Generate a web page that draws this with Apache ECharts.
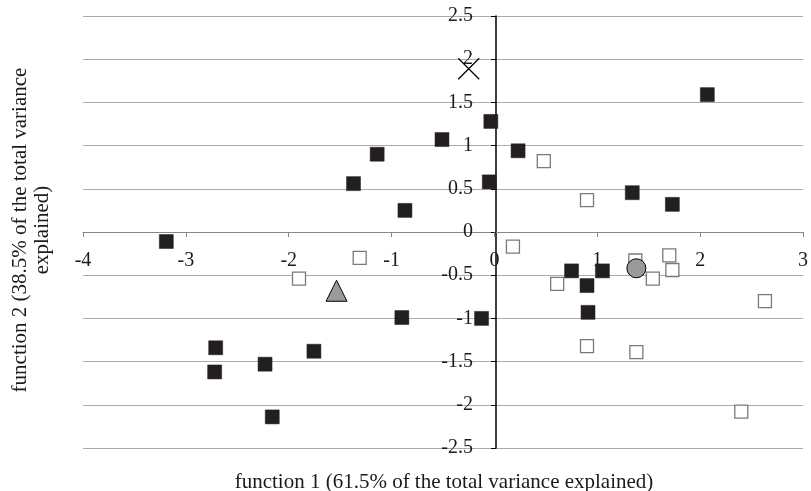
<!DOCTYPE html>
<html>
<head>
<meta charset="utf-8">
<script src="https://cdn.jsdelivr.net/npm/echarts@6/dist/echarts.min.js"></script>
<style>
html,body{margin:0;padding:0;background:#fff;}
#chart{width:811px;height:491px;}
</style>
</head>
<body>
<div id="chart"></div>
<script>
// Group A (filled black squares)
const blackX = [-0.51, -1.14, -1.37, -0.87, -3.19, -0.035, 0.23, -0.05, 1.34, 1.73, 2.07,
                -0.90, -2.71, -1.755, -2.72, -2.23, -2.16, -0.125, 0.75, 0.90, 1.05, 0.91];
const blackY = [1.07, 0.90, 0.56, 0.25, -0.11, 1.28, 0.94, 0.58, 0.455, 0.32, 1.59,
                -0.99, -1.34, -1.38, -1.62, -1.53, -2.14, -1.00, -0.45, -0.62, -0.45, -0.93];
// Group B (open squares)
const openX = [0.48, 0.90, 0.18, -1.31, -1.90, 0.61, 1.37, 1.54, 1.70, 1.73, 2.63, 0.90, 1.38, 2.40];
const openY = [0.82, 0.37, -0.17, -0.30, -0.54, -0.60, -0.33, -0.54, -0.27, -0.44, -0.80, -1.32, -1.39, -2.08];
// Group centroids
const crossPt = [-0.25, 1.89];
const trianglePt = [-1.535, -0.68];
const circlePt = [1.38, -0.42];

const xTitle = 'function 1 (61.5% of the total variance explained)';
const yTitle = 'function 2 (38.5% of the total variance\nexplained)';

const FONT = '"Liberation Serif", "Times New Roman", serif';

const pair = (xs, ys) => xs.map((x, i) => [x, ys[i]]);

const GRID = {left: 83, right: 5, top: 16, bottom: 43};
const W = 811, H = 491;
const plotW = W - GRID.left - GRID.right;
const plotH = H - GRID.top - GRID.bottom;
// shift axes so they cross at the origin (0,0)
const xMin = -4, xMax = 3, yMin = -2.5, yMax = 2.5;
const yAxisOffset = -Math.round(plotW * (0 - xMin) / (xMax - xMin));
const xAxisOffset = -Math.round(plotH * (0 - yMin) / (yMax - yMin));

const chart = echarts.init(document.getElementById('chart'), null, {renderer: 'canvas'});
chart.setOption({
  animation: false,
  backgroundColor: '#ffffff',
  grid: Object.assign({containLabel: false}, GRID),
  xAxis: {
    type: 'value', min: xMin, max: xMax, interval: 1,
    position: 'bottom', offset: xAxisOffset,
    axisLine: {show: true, onZero: false, lineStyle: {color: '#868686', width: 1}},
    axisTick: {show: true, inside: false, length: 5, lineStyle: {color: '#868686', width: 1}},
    axisLabel: {margin: 19, color: '#1a1a1a', fontFamily: FONT, fontSize: 20},
    splitLine: {show: false}
  },
  yAxis: {
    type: 'value', min: yMin, max: yMax, interval: 0.5,
    position: 'left', offset: yAxisOffset,
    axisLine: {show: true, onZero: false, lineStyle: {color: '#000', width: 1.5}},
    axisTick: {show: true, inside: false, length: 5, lineStyle: {color: '#000', width: 1}},
    axisLabel: {margin: 23, color: '#1a1a1a', fontFamily: FONT, fontSize: 20},
    splitLine: {show: true, lineStyle: {color: '#ababab', width: 1}}
  },
  series: [
    {
      type: 'scatter', data: pair(openX, openY), symbol: 'rect', symbolSize: 13,
      itemStyle: {color: '#ffffff', borderColor: '#7a7a7a', borderWidth: 1.3, opacity: 1}
    },
    {
      type: 'scatter', data: pair(blackX, blackY), symbol: 'rect', symbolSize: 14,
      itemStyle: {color: '#231f20', borderColor: '#231f20', borderWidth: 0.5, opacity: 1}
    },
    {
      type: 'scatter', data: [trianglePt], symbol: 'triangle', symbolSize: 21,
      itemStyle: {color: '#9a9a9a', borderColor: '#000', borderWidth: 1, opacity: 1}
    },
    {
      type: 'scatter', data: [circlePt], symbol: 'circle', symbolSize: 19,
      itemStyle: {color: '#9a9a9a', borderColor: '#000', borderWidth: 1, opacity: 1}
    },
    {
      type: 'scatter', data: [crossPt], symbol: 'path://M0,0L10,10M10,0L0,10', symbolSize: 21,
      itemStyle: {color: 'none', borderColor: '#000', borderWidth: 1.3, opacity: 1}
    }
  ],
  graphic: [
    {
      type: 'text', x: 444, y: 482,
      style: {text: xTitle, fontFamily: FONT, fontSize: 21, fill: '#1a1a1a', align: 'center', verticalAlign: 'middle'}
    },
    {
      type: 'text', x: 31, y: 230, rotation: Math.PI / 2,
      style: {text: yTitle, fontFamily: FONT, fontSize: 21, lineHeight: 22, fill: '#1a1a1a', align: 'center', verticalAlign: 'middle'}
    }
  ]
});
</script>
</body>
</html>
